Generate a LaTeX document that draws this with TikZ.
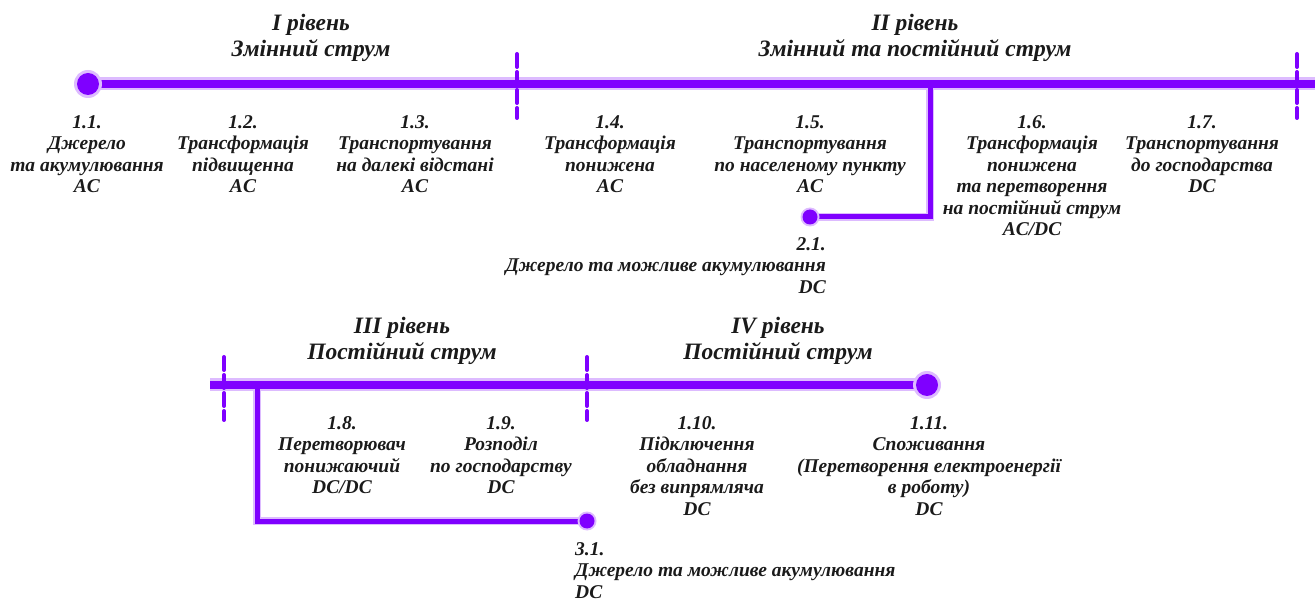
\documentclass[tikz,border=0pt]{standalone}
\usepackage{fontspec}
\setmainfont{Liberation Serif}
\usetikzlibrary{calc}
\usetikzlibrary{positioning}

\definecolor{lineviolet}{HTML}{7F00FF}
\definecolor{glowviolet}{HTML}{DDBBFF}
\definecolor{textgray}{HTML}{1A1A1A}

\begin{document}
\begin{tikzpicture}[x=1pt,y=-1pt,
every node/.style={font=\bfseries\itshape\fontsize{19.5}{21.5}\selectfont,text=textgray,align=center,inner sep=0pt,anchor=north},
title/.style={font=\bfseries\itshape\fontsize{23.5}{25.5}\selectfont},
glow/.style={draw=glowviolet,line width=13pt},
axis/.style={draw=lineviolet,line width=8.5pt},
branchglow/.style={draw=glowviolet,line width=8pt},
branch/.style={draw=lineviolet,line width=5pt},
limit/.style={draw=lineviolet,line width=4pt,dash pattern=on 13pt off 5pt,line cap=round}]

\useasboundingbox (0,0) rectangle (1315,601);

% first line
\coordinate (a1) at (88,84);
\coordinate (a2) at (1315,84);
\coordinate (b1) at (930,84);
\coordinate (b2) at (930,217);
\coordinate (b3) at (810,217);
\draw[branchglow] (b1) -- (b2) -- (b3);
\draw[glow] (a1) -- (a2);
\draw[axis] (a1) -- (a2);
\draw[branch] (b1) -- (b2) -- (b3);
\fill[glowviolet] (a1) circle (14pt);
\fill[lineviolet] (a1) circle (11pt);
\fill[glowviolet] (b3) circle (9.5pt);
\fill[lineviolet] (b3) circle (7.5pt);
\draw[limit] (517,54) -- (517,118);
\draw[limit] (1297,54) -- (1297,118);

\node[title] (lev1) at (311,14) {I рівень\\Змінний струм};
\node[title] (lev2) at (915,14) {II рівень\\Змінний та постійний струм};

\node (s11) at (87,115) {1.1.\\Джерело\\та акумулювання\\AC};
\node (s12) at (243,115) {1.2.\\Трансформація\\підвищенна\\AC};
\node (s13) at (415,115) {1.3.\\Транспортування\\на далекі відстані\\AC};
\node (s14) at (610,115) {1.4.\\Трансформація\\понижена\\AC};
\node (s15) at (810,115) {1.5.\\Транспортування\\по населеному пункту\\AC};
\node (s16) at (1032,115) {1.6.\\Трансформація\\понижена\\та перетворення\\на постійний струм\\AC/DC};
\node (s17) at (1202,115) {1.7.\\Транспортування\\до господарства\\DC};
\node[anchor=north east,align=right] (s21) at (826,237) {2.1.\\Джерело та можливе акумулювання\\DC};

% second line
\coordinate (c1) at (210,385);
\coordinate (c2) at (927,385);
\coordinate (d1) at (257,385);
\coordinate (d2) at (257,521);
\coordinate (d3) at (587,521);
\draw[branchglow] (d1) -- (d2) -- (d3);
\draw[glow] (c1) -- (c2);
\draw[axis] (c1) -- (c2);
\draw[branch] (d1) -- (d2) -- (d3);
\fill[glowviolet] (c2) circle (14pt);
\fill[lineviolet] (c2) circle (11pt);
\fill[glowviolet] (d3) circle (9.5pt);
\fill[lineviolet] (d3) circle (7.5pt);
\draw[limit] (224,357) -- (224,420);
\draw[limit] (587,357) -- (587,420);

\node[title] (lev3) at (402,317) {III рівень\\Постійний струм};
\node[title] (lev4) at (778,317) {IV рівень\\Постійний струм};

\node (s18) at (342,416) {1.8.\\Перетворювач\\понижаючий\\DC/DC};
\node (s19) at (501,416) {1.9.\\Розподіл\\по господарству\\DC};
\node (s110) at (697,416) {1.10.\\Підключення\\обладнання\\без випрямляча\\DC};
\node (s111) at (929,416) {1.11.\\Споживання\\(Перетворення електроенергії\\в роботу)\\DC};
\node[anchor=north west,align=left] (s31) at (575,542) {3.1.\\Джерело та можливе акумулювання\\DC};

\end{tikzpicture}
\end{document}
